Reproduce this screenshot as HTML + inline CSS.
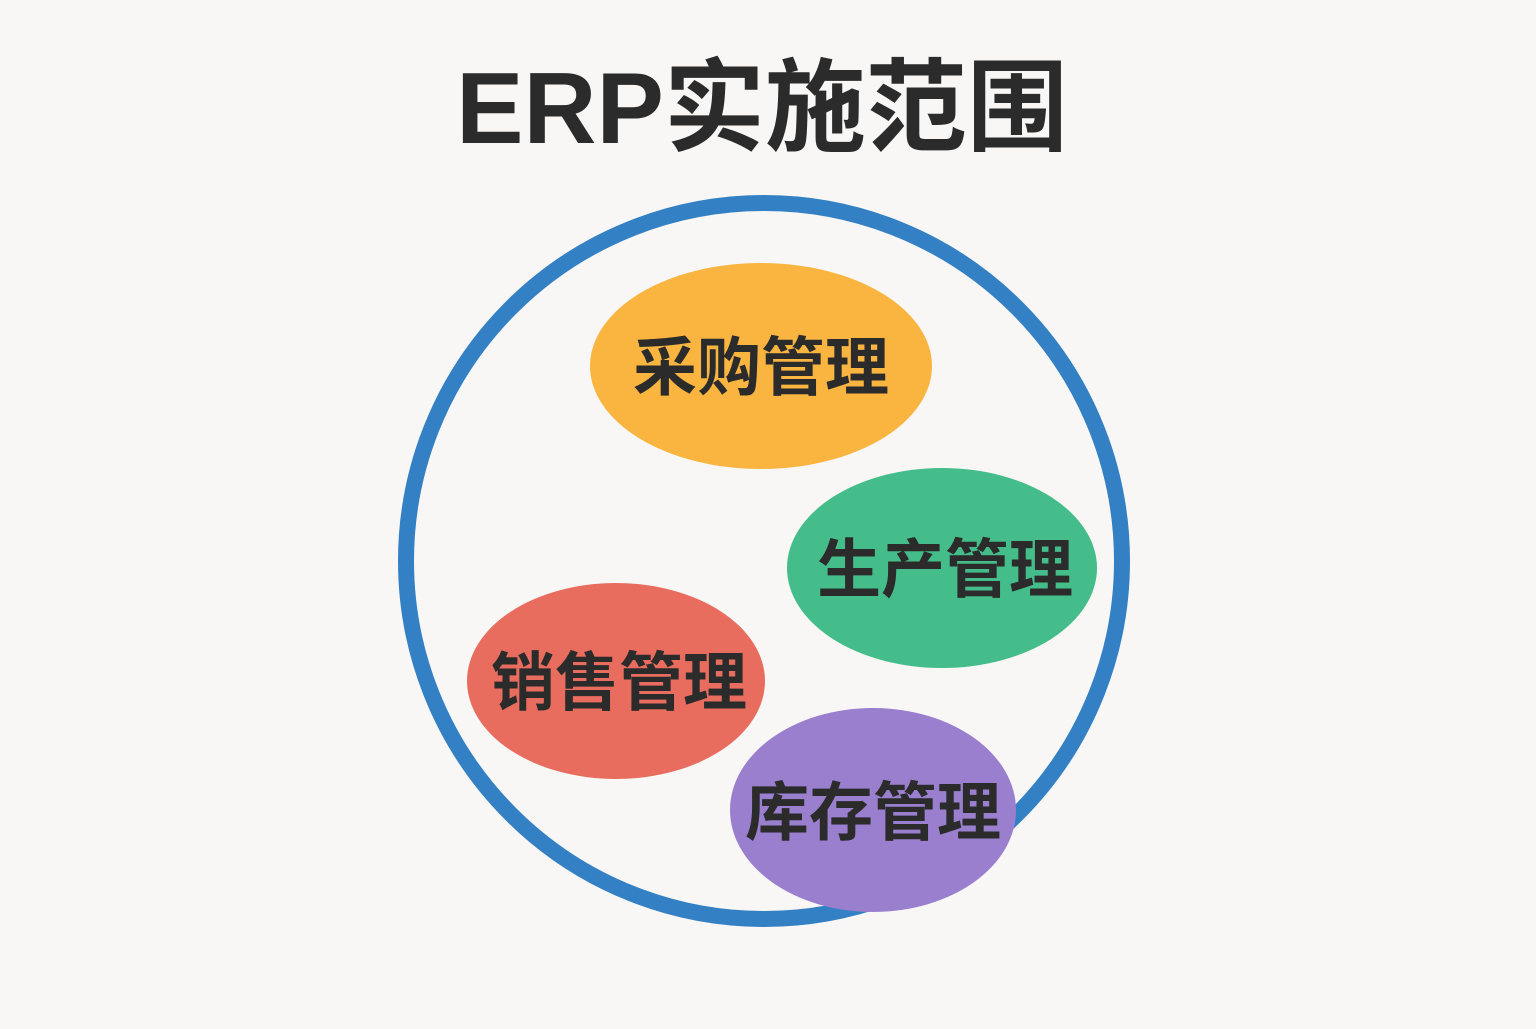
<!DOCTYPE html>
<html><head><meta charset="utf-8"><style>
html,body{margin:0;padding:0;background:#f8f7f5;}
body{width:1536px;height:1024px;overflow:hidden;}
</style></head><body>
<svg width="1536" height="1024" viewBox="0 0 1536 1024" xmlns="http://www.w3.org/2000/svg">
<rect width="1536" height="1024" fill="#f8f7f5"/>
<text x="762" y="143" text-anchor="middle" font-family="'Liberation Sans','Noto Sans CJK SC',sans-serif" font-weight="bold" font-size="101" fill="#2b2b2b">ERP实施范围</text>
<circle cx="764" cy="561" r="358" fill="none" stroke="#3480c4" stroke-width="16"/>
<g font-family="'Liberation Sans','Noto Sans CJK SC',sans-serif" font-weight="bold" font-size="64" fill="#2b2b2b" text-anchor="middle">
<ellipse cx="761" cy="366" rx="171" ry="103" fill="#f9b540"/>
<text x="761" y="390">采购管理</text>
<ellipse cx="942" cy="568" rx="155" ry="100" fill="#44bd8a"/>
<text x="945" y="592">生产管理</text>
<ellipse cx="616" cy="681" rx="149" ry="98" fill="#e96d5e"/>
<text x="619" y="705">销售管理</text>
<ellipse cx="873" cy="810" rx="143" ry="102" fill="#9a7fcf"/>
<text x="873" y="835">库存管理</text>
</g>
</svg>
</body></html>
